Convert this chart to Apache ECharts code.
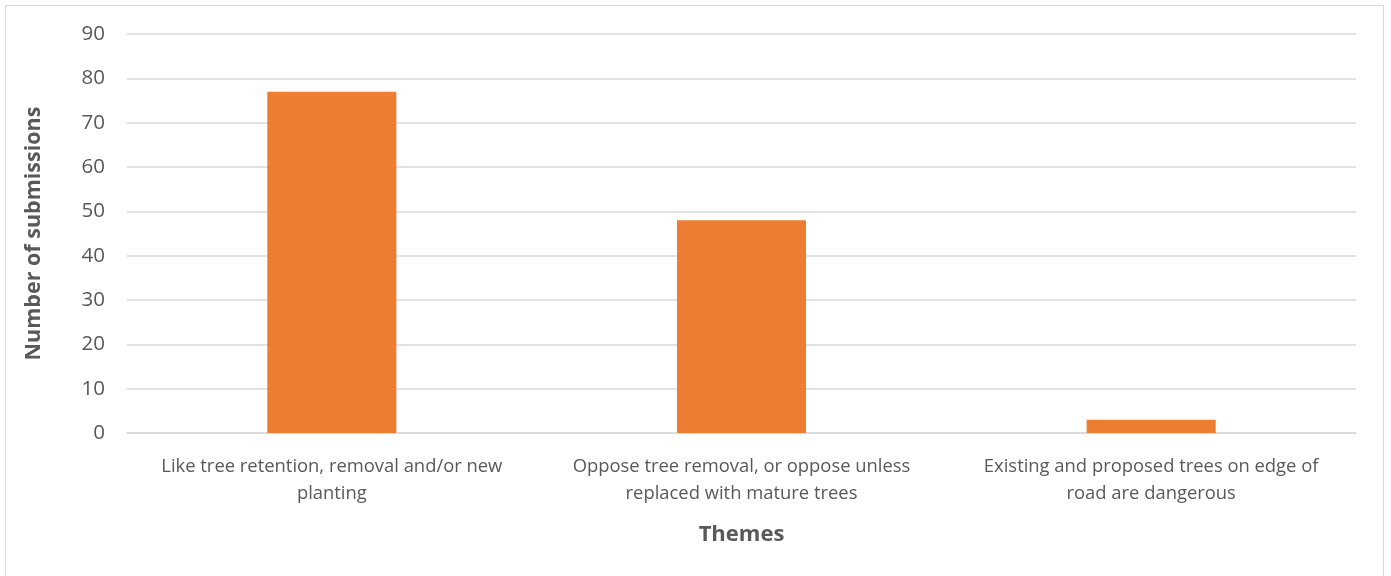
<!DOCTYPE html>
<html><head><meta charset="utf-8">
<script src="https://cdn.jsdelivr.net/npm/echarts@6/dist/echarts.min.js"></script>
<style>
html,body{margin:0;padding:0;background:#fff;}
#wrap{position:absolute;left:5px;top:5px;width:1379px;height:575px;border:1px solid #d9d9d9;box-sizing:border-box;}
#c{position:absolute;left:0;top:0;width:1391px;height:576px;}
</style></head>
<body>
<div id="wrap"></div>
<div id="c"></div>
<script>
const categories = [
  "Like tree retention, removal and/or new\nplanting",
  "Oppose tree removal, or oppose unless\nreplaced with mature trees",
  "Existing and proposed trees on edge of\nroad are dangerous"
];
const submissions = [77, 48, 3];
const yTicks = { min: 0, max: 90, interval: 10 };

const chart = echarts.init(document.getElementById('c'), null, {renderer: 'canvas'});
const font = "'Open Sans', 'Noto Sans', sans-serif";
chart.setOption({
  animation: false,
  grid: { left: 127, right: 35, top: 34, bottom: 143, containLabel: false },
  xAxis: {
    type: 'category',
    data: categories,
    name: 'Themes',
    nameLocation: 'middle',
    nameGap: 91,
    nameTextStyle: { color: '#595959', fontSize: 22, fontWeight: 'bold', fontFamily: font },
    axisLine: { show: true, lineStyle: { color: '#d9d9d9', width: 1.5 } },
    axisTick: { show: false },
    axisLabel: { color: '#595959', fontSize: 18.4, fontFamily: font, lineHeight: 27, margin: 20, interval: 0 }
  },
  yAxis: {
    type: 'value',
    min: yTicks.min, max: yTicks.max, interval: yTicks.interval,
    name: 'Number of submissions',
    nameLocation: 'middle',
    nameGap: 82,
    nameTextStyle: { color: '#595959', fontSize: 21.5, fontWeight: 'bold', fontFamily: font },
    axisLine: { show: false },
    axisTick: { show: false },
    axisLabel: { color: '#595959', fontSize: 20.5, fontFamily: font, margin: 22 },
    splitLine: { lineStyle: { color: '#d9d9d9', width: 1.5 } }
  },
  series: [{
    type: 'bar',
    data: submissions,
    barWidth: '31.5%',
    itemStyle: { color: '#ed7d31' }
  }]
});
</script>
</body></html>
